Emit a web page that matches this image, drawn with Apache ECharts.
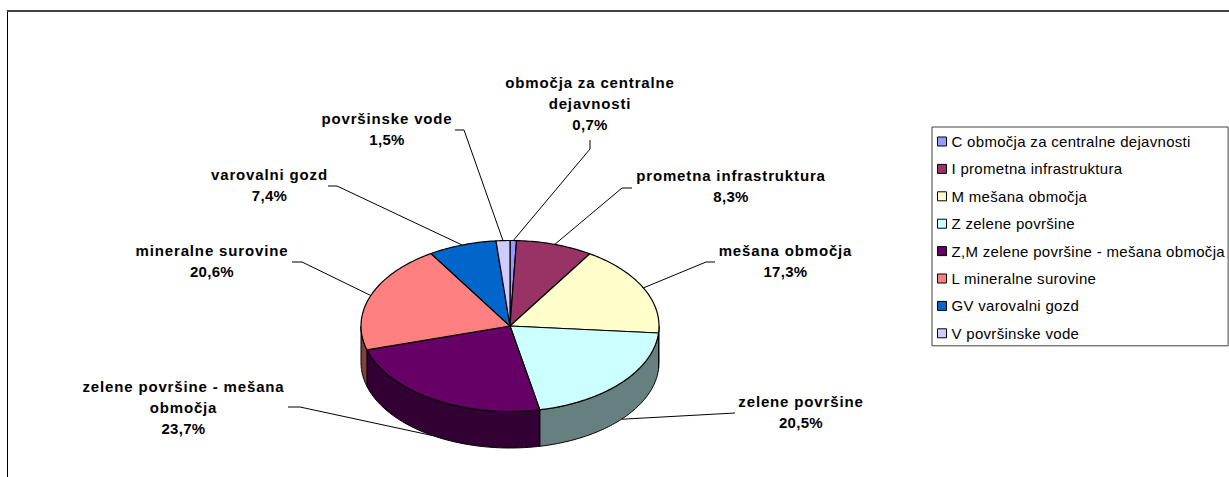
<!DOCTYPE html>
<html>
<head>
<meta charset="utf-8">
<style>
html,body{margin:0;padding:0;background:#fff}
#c{width:1229px;height:477px}
/* Reference text is tracked wider than the font's default metrics */
svg text{letter-spacing:.3px}
svg text[style*="bold"]{letter-spacing:.85px}
</style>
<script src="https://cdn.jsdelivr.net/npm/echarts@6/dist/echarts.min.js"></script>
</head>
<body>
<div id="c"></div>
<script>
const legendNames = ['C območja za centralne dejavnosti','I prometna infrastruktura','M mešana območja','Z zelene površine','Z,M zelene površine - mešana območja','L mineralne surovine','GV varovalni gozd','V površinske vode'];
const labelNames = [['območja za centralne','dejavnosti'],['prometna infrastruktura'],['mešana območja'],['zelene površine'],['zelene površine - mešana','območja'],['mineralne surovine'],['varovalni gozd'],['površinske vode']];
const values = [0.7,8.3,17.3,20.5,23.7,20.6,7.4,1.5];
const colors = ['#9999FF','#993366','#FFFFCC','#CCFFFF','#660066','#FF8080','#0066CC','#CCCCFF'];
const sideColors = ['#4C4C80','#4C1933','#808066','#668080','#330033','#804040','#003366','#666680'];

// Layout, separate from the data
const pie = {cx:510, cy:326, rx:149, ry:85.5, depth:36.5};
const labelCenter = [590,731,785.5,801,183.5,212,269.5,387];
const labelFirstY = [82,175,250,401,386,250,174,118];
const leaderPath = [
  [[590,149],[590,140]],
  [[622,188],[632,188]],
  [[706,262],[715,262]],
  [[735,413]],
  [[300,407],[288,407]],
  [[302,262],[292,262]],
  [[337,186],[328,186]],
  [[464,130],[455,130]]
];
const lineGap = 21.3;
const total = values.reduce((a,b)=>a+b,0);
const DEG = Math.PI/180;

function pt(deg, drop){
  return [pie.cx + pie.rx*Math.sin(deg*DEG), pie.cy - pie.ry*Math.cos(deg*DEG) + (drop||0)];
}
function arc(a0,a1,drop){
  const out=[]; const n=Math.max(2,Math.ceil(Math.abs(a1-a0)));
  for(let i=0;i<=n;i++) out.push(pt(a0+(a1-a0)*i/n,drop));
  return out;
}
function makeSeries(idx){
  return {
    type:'custom', name:legendNames[idx], coordinateSystem:'none', silent:true, animation:false,
    itemStyle:{color:colors[idx],borderColor:'#000',borderWidth:1},
    data:[[values[idx]]],
    renderItem:function(params,api){
      const before=values.slice(0,idx).reduce((a,b)=>a+b,0);
      const a0=before/total*360, a1=(before+api.value(0))/total*360, mid=(a0+a1)/2;
      const children=[];
      // leader line
      const front=mid>90&&mid<270;
      const pts=[pt(mid,front?pie.depth:0)].concat(leaderPath[idx]);
      children.push({type:'polyline',z2:1,shape:{points:pts},style:{stroke:'#000',lineWidth:1,fill:null}});
      // side wall (front half only)
      const w0=Math.max(a0,90), w1=Math.min(a1,270);
      if(w1>w0){
        const wall=arc(w0,w1,0).concat(arc(w1,w0,pie.depth));
        children.push({type:'polygon',z2:5,shape:{points:wall},style:{fill:sideColors[idx],stroke:'#000',lineWidth:1,lineJoin:'round'}});
      }
      // top face
      const face=[[pie.cx,pie.cy]].concat(arc(a0,a1,0));
      children.push({type:'polygon',z2:10,shape:{points:face},style:{fill:colors[idx],stroke:'#000',lineWidth:1.2,lineJoin:'round'}});
      // labels
      const lines=labelNames[idx];
      lines.forEach(function(t,i){
        children.push({type:'text',z2:20,style:{text:t,x:labelCenter[idx],y:labelFirstY[idx]+i*lineGap,align:'center',verticalAlign:'middle',fontFamily:'Liberation Sans',fontWeight:'bold',fontSize:15,fill:'#000'}});
      });
      children.push({type:'text',z2:20,style:{text:api.value(0).toFixed(1).replace('.',',')+'%',x:labelCenter[idx],y:labelFirstY[idx]+lines.length*lineGap,align:'center',verticalAlign:'middle',fontFamily:'Liberation Sans',fontWeight:700,fontSize:15,fill:'#000'}});
      return {type:'group',children:children};
    }
  };
}
const chart=echarts.init(document.getElementById('c'),null,{renderer:'svg'});
chart.setOption({
  animation:false,
  graphic:[
    {type:'line',silent:true,shape:{x1:7.5,y1:11,x2:7.5,y2:477},style:{stroke:'#000',lineWidth:1}},
    {type:'line',silent:true,shape:{x1:7,y1:11,x2:1229,y2:11},style:{stroke:'#404040',lineWidth:2}}
  ],
  legend:{
    show:true, orient:'vertical', left:932, top:127, selectedMode:false,
    data:legendNames, icon:'rect', itemWidth:9, itemHeight:9, itemGap:12.4,
    padding:[7,14,5,5], backgroundColor:'#fff', borderColor:'#404040', borderWidth:1,
    textStyle:{fontFamily:'Liberation Sans',fontSize:15,lineHeight:14,color:'#000'},
    itemStyle:{borderColor:'#000',borderWidth:1}
  },
  series:values.map(function(v,i){return makeSeries(i);})
});
</script>
</body>
</html>
